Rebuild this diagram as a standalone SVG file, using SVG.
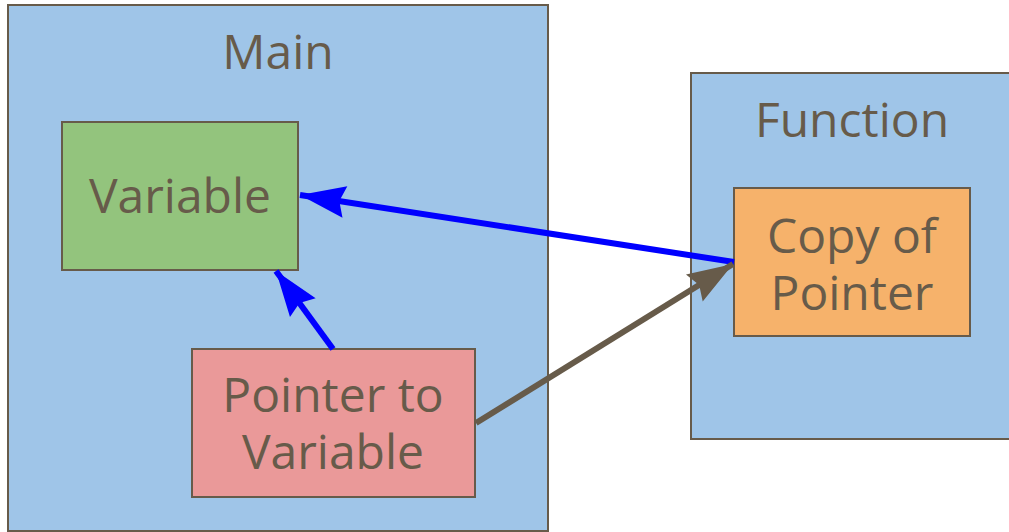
<svg xmlns="http://www.w3.org/2000/svg" width="1009" height="532" viewBox="0 0 1009 532">
<style>
.box{stroke:#675b4a;stroke-width:2}
.t{font-family:"Open Sans",sans-serif;font-size:48px;fill:#675b4a;text-anchor:middle}
.blue{stroke:#0000ff;stroke-width:6;fill:none}
.brown{stroke:#675b4a;stroke-width:6;fill:none}
</style>
<defs>
<marker id="ab" markerUnits="userSpaceOnUse" markerWidth="50" markerHeight="40" refX="0" refY="0" viewBox="-42 -16 44 32" orient="auto" overflow="visible">
<path d="M0,0 L-40,-14 L-35,0 L-40,14 Z" fill="#0000ff"/>
</marker>
<marker id="ar" markerUnits="userSpaceOnUse" markerWidth="50" markerHeight="40" refX="0" refY="0" viewBox="-42 -16 44 32" orient="auto" overflow="visible">
<path d="M0,0 L-40,-14 L-35,0 L-40,14 Z" fill="#675b4a"/>
</marker>
</defs>
<g id="main"><rect class="box" x="8" y="5" width="540" height="526" fill="#9fc5e8"/><text class="t" x="278" y="69">Main</text></g>
<g id="function"><rect class="box" x="691" y="73" width="330" height="366" fill="#9fc5e8"/><text class="t" x="852" y="137">Function</text></g>
<g id="variable"><rect class="box" x="62" y="122" width="236" height="148" fill="#93c47d"/><text class="t" x="180" y="213">Variable</text></g>
<g id="pointer"><rect class="box" x="192" y="349" width="283" height="148" fill="#ea9999"/><text class="t" x="333" y="412">Pointer to</text><text class="t" x="333" y="469">Variable</text></g>
<g id="copy"><rect class="box" x="734" y="188" width="236" height="148" fill="#f6b26b"/><text class="t" x="852" y="253">Copy of</text><text class="t" x="852" y="310">Pointer</text></g>
<g id="connectors">
<path class="blue" d="M734,262 L300,195" marker-end="url(#ab)"/>
<path class="blue" d="M333,349 L276,271" marker-end="url(#ab)"/>
<path class="brown" d="M476,423 L733,264" marker-end="url(#ar)"/>
</g>
</svg>
